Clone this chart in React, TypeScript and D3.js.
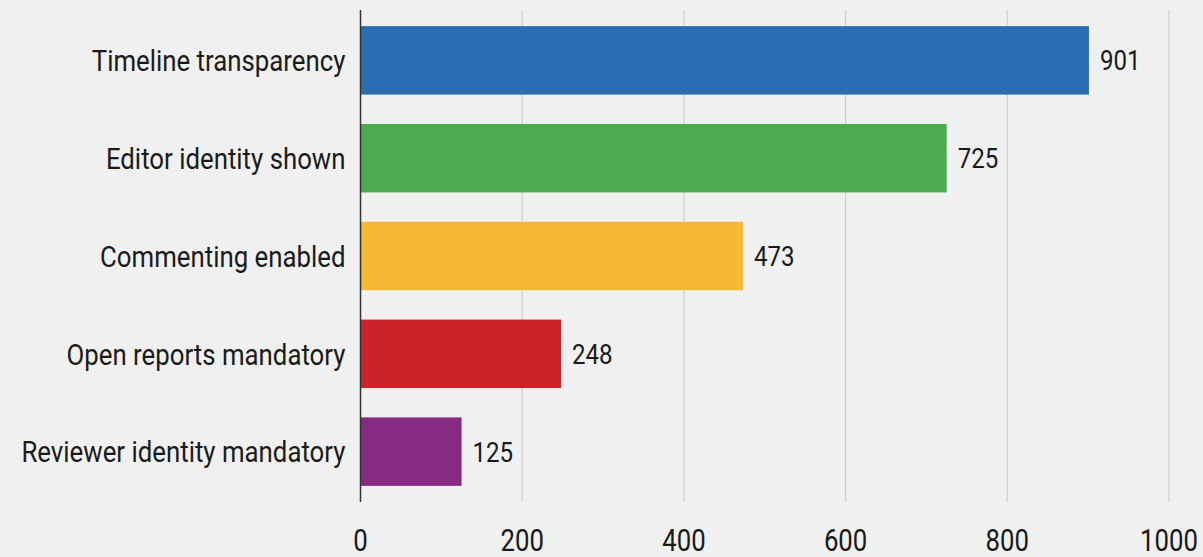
import React from "react";
import * as d3 from "d3";

const categories = [
  "Timeline transparency",
  "Editor identity shown",
  "Commenting enabled",
  "Open reports mandatory",
  "Reviewer identity mandatory",
];
const values = [901, 725, 473, 248, 125];
const colors = ["#2a6db2", "#4caa4f", "#f5b935", "#cc2229", "#862a82"];
const xTicks = [0, 200, 400, 600, 800, 1000];

const W = 1203;
const H = 557;
const FONT = "Roboto, 'Noto Sans', sans-serif";
const SX = 0.86;

export default function App() {
  const x = d3.scaleLinear().domain([0, 1000]).range([360.5, 1169]);
  const y = d3
    .scaleBand<string>()
    .domain(categories)
    .range([10, 502])
    .paddingInner(0.3)
    .paddingOuter(0.165);

  return (
    <svg
      width={W}
      height={H}
      style={{ position: "absolute", left: 0, top: 0, background: "#f0f0f0" }}
    >
      <rect x={0} y={0} width={W} height={H} fill="#f0f0f0" />
      {xTicks.slice(1).map((t) => (
        <line
          key={t}
          x1={x(t)}
          x2={x(t)}
          y1={10}
          y2={502}
          stroke="#cfcfcf"
          strokeWidth={1.2}
        />
      ))}
      {categories.map((c, i) => (
        <rect
          key={c}
          x={x(0)}
          y={y(c)!}
          width={x(values[i]) - x(0)}
          height={y.bandwidth()}
          fill={colors[i]}
        />
      ))}
      <line x1={x(0)} x2={x(0)} y1={10} y2={502} stroke="#333" strokeWidth={1.5} />
      {categories.map((c) => {
        const cy = y(c)! + y.bandwidth() / 2;
        return (
          <text
            key={c}
            transform={`translate(${x(0) - 15},${cy}) scale(${SX},1)`}
            textAnchor="end"
            dy="0.36em"
            fontFamily={FONT}
            fontSize={30}
            fill="#1a1a1a"
          >
            {c}
          </text>
        );
      })}
      {categories.map((c, i) => {
        const cy = y(c)! + y.bandwidth() / 2;
        return (
          <text
            key={c + "v"}
            transform={`translate(${x(values[i]) + 11},${cy}) scale(${SX},1)`}
            textAnchor="start"
            dy="0.36em"
            fontFamily={FONT}
            fontSize={28}
            fill="#1a1a1a"
          >
            {values[i]}
          </text>
        );
      })}
      {xTicks.map((t) => (
        <text
          key={t}
          transform={`translate(${x(t)},550.5) scale(0.83,1)`}
          textAnchor="middle"
          fontFamily={FONT}
          fontSize={31}
          fill="#1a1a1a"
        >
          {t}
        </text>
      ))}
    </svg>
  );
}
